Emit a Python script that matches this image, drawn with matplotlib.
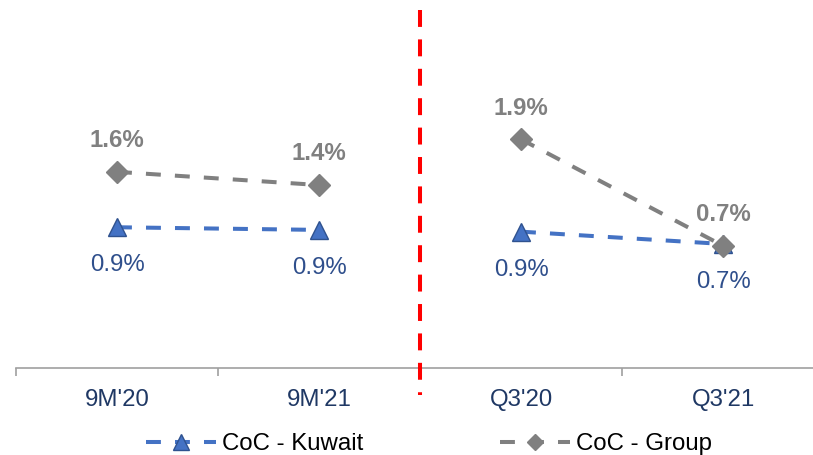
import numpy as np
import matplotlib
matplotlib.use('Agg')
import matplotlib.pyplot as plt
from matplotlib.lines import Line2D

plt.rcParams['font.family'] = ['Liberation Sans', 'DejaVu Sans']

# data (percent)
categories = ["9M'20", "9M'21", "Q3'20", "Q3'21"]
kuwait = [0.94, 0.91, 0.89, 0.75]
group = [1.57, 1.42, 1.94, 0.73]
kuwait_labels = ['0.9%', '0.9%', '0.9%', '0.7%']
group_labels = ['1.6%', '1.4%', '1.9%', '0.7%']

BLUE = '#4472C4'
BLUE_EDGE = '#2F528F'
BLUE_TXT = '#2F4F8C'
NAVY = '#1F3864'
GRAY = '#808080'
FS = 17.3

fig = plt.figure(figsize=(8.13, 4.55), dpi=100)
ax = fig.add_axes([16 / 813, 87 / 455, 808 / 813, 358 / 455])

x = np.arange(len(categories))
lw = 2.9
for seg in (slice(0, 2), slice(2, 4)):
    ax.plot(x[seg], group[seg], color=GRAY, lw=lw, dashes=(3.7, 3.5),
            marker='D', ms=11.5, mfc=GRAY, mec=GRAY, zorder=3)
    ax.plot(x[seg], kuwait[seg], color=BLUE, lw=lw, dashes=(3.7, 3.5),
            marker='^', ms=13.5, mfc=BLUE, mec=BLUE_EDGE, mew=1, zorder=2)

for xi, v, t in zip(x, group, group_labels):
    ax.annotate(t, (xi, v), xytext=(0, 22.5), textcoords='offset points',
                ha='center', va='center', fontsize=FS, fontweight='bold', color=GRAY)
for xi, v, t in zip(x, kuwait, kuwait_labels):
    ax.annotate(t, (xi, v), xytext=(0, -27.5), textcoords='offset points',
                ha='center', va='center', fontsize=FS, color=BLUE_TXT)

# red separator
ax.plot([1.5, 1.5], [1.0, -0.075], transform=ax.get_xaxis_transform(),
        color='#FF0000', lw=2.9, dashes=(4.2, 3.1), clip_on=False, zorder=4)

ax.set_xlim(-0.5, 3.5)
ax.set_ylim(-0.66, 3.41)
ax.set_xticks(x)
ax.set_xticklabels(categories, fontsize=FS, color=NAVY)
ax.set_xticks([-0.5, 0.5, 1.5, 2.5], minor=True)
ax.tick_params(axis='x', which='major', length=0, pad=15)
ax.tick_params(axis='x', which='minor', length=6, width=1.2, color='#A0A0A0')
ax.set_yticks([])
for s in ('top', 'right', 'left'):
    ax.spines[s].set_visible(False)
ax.spines['bottom'].set_color('#A0A0A0')
ax.spines['bottom'].set_linewidth(1.2)

handles = [
    Line2D([], [], color=BLUE, lw=lw, dashes=(3.7, 3.5), marker='^', ms=11,
           mfc=BLUE, mec=BLUE_EDGE),
    Line2D([], [], color=GRAY, lw=lw, dashes=(3.7, 3.5), marker='D', ms=8.5,
           mfc=GRAY, mec=GRAY),
]
fig.legend(handles, ['CoC - Kuwait', 'CoC - Group'], loc='center',
           bbox_to_anchor=(0.528, 11 / 455), ncol=2, frameon=False, fontsize=FS,
           handlelength=2.9, columnspacing=5.7, handletextpad=0.25)

fig.savefig('out.png', dpi=100)
